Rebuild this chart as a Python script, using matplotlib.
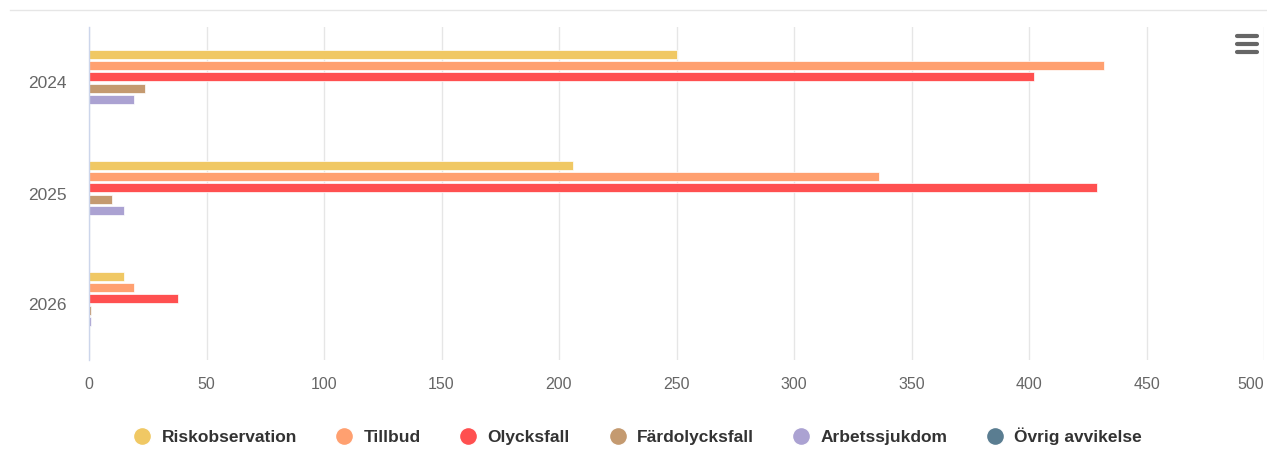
import matplotlib.pyplot as plt
from matplotlib.lines import Line2D
import numpy as np

years = ['2024', '2025', '2026']
series_names = ['Riskobservation', 'Tillbud', 'Olycksfall', 'Färdolycksfall', 'Arbetssjukdom', 'Övrig avvikelse']
riskobservation = [250, 206, 15]
tillbud = [432, 336, 19]
olycksfall = [402, 429, 38]
fardolycksfall = [24, 10, 1]
arbetssjukdom = [19, 15, 1]
ovrig_avvikelse = [0, 0, 0]
colors = ['#f0c864', '#ffa070', '#ff5050', '#c49a70', '#aba2d2', '#5a7d91']
x_ticks = [0, 50, 100, 150, 200, 250, 300, 350, 400, 450, 500]

plt.rcParams['font.family'] = ['Liberation Sans', 'DejaVu Sans']

fig = plt.figure(figsize=(12.67, 4.70), dpi=100)
ax = fig.add_axes([89 / 1267, 110 / 470, 1175 / 1267, 333 / 470])

all_series = [riskobservation, tillbud, olycksfall, fardolycksfall, arbetssjukdom, ovrig_avvikelse]
y = np.arange(len(years))
pitch = 0.102
for i, (name, vals, col) in enumerate(zip(series_names, all_series, colors)):
    ax.barh(y + (i - 2.5) * pitch, vals, height=0.08, color=col,
            edgecolor='white', linewidth=0.5, label=name, zorder=3)

ax.set_xlim(0, 500)
ax.set_ylim(2.5, -0.5)
ax.set_xticks(x_ticks)
ax.set_yticks(y)
ax.set_yticklabels(years)
ax.tick_params(axis='both', length=0, colors='#666666')
ax.tick_params(axis='x', pad=12, labelsize=11.5)
ax.tick_params(axis='y', pad=16, labelsize=12.5)
ax.get_xticklabels()[-1].set_horizontalalignment('right')
ax.grid(axis='x', color='#e6e6e6', linewidth=1, zorder=0)
for s in ['top', 'right', 'bottom']:
    ax.spines[s].set_visible(False)
ax.spines['left'].set_color('#ccd6eb')
ax.spines['left'].set_linewidth(1)
ax.spines['left'].set_zorder(4)

# top separator line
fig.add_artist(Line2D([10 / 1267, 1], [1 - 10 / 470, 1 - 10 / 470], color='#e6e6e6', linewidth=1))

# menu icon
for yy in [36, 44, 52]:
    fig.add_artist(Line2D([1237 / 1267, 1257 / 1267], [1 - yy / 470, 1 - yy / 470],
                          color='#666666', linewidth=3, solid_capstyle='round'))

handles = [Line2D([0], [0], marker='o', color='w', markerfacecolor=c, markersize=13, linewidth=0)
           for c in colors]
leg = fig.legend(handles, series_names, loc='center', bbox_to_anchor=(0.5, 1 - 436 / 470),
                 ncol=6, frameon=False, handletextpad=0.1, columnspacing=1.75,
                 prop={'weight': 'bold', 'size': 12.5})
for t in leg.get_texts():
    t.set_color('#333333')

plt.savefig('out.png', dpi=100)
